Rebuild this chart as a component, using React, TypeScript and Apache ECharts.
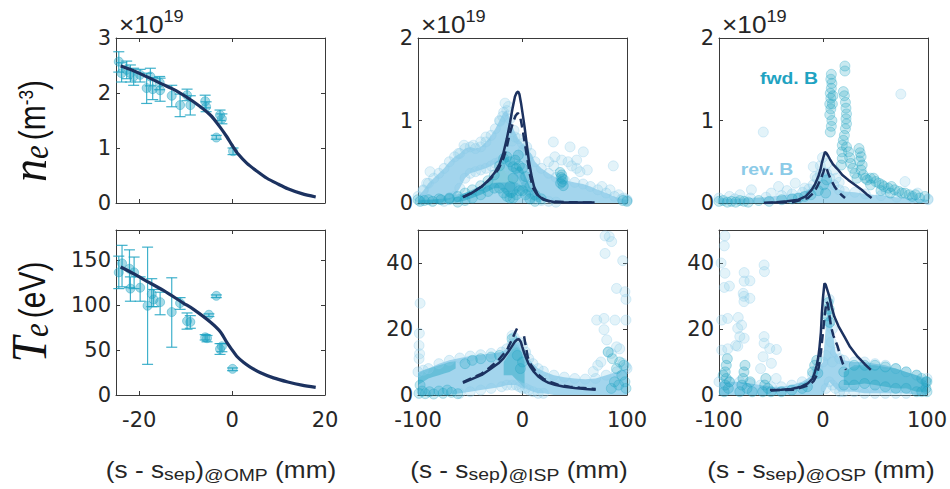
import React, { useEffect, useRef } from "react";
import * as echarts from "echarts";

// ---------- upstream (OMP) profiles: [s, value, lower, upper] ----------
const ompNePts = [
  [-24.4, 2.57, 2.38, 2.75], [-23.8, 2.36, 2.2, 2.55], [-22.7, 2.42, 2.26, 2.58], [-21.9, 2.36, 2.2, 2.51],
  [-21.2, 2.3, 2.14, 2.45], [-19.8, 2.33, 2.2, 2.43], [-18.4, 2.09, 1.81, 2.36], [-17.6, 2.3, 2.13, 2.45],
  [-17.1, 2.07, 1.88, 2.28], [-15.6, 2.19, 2.06, 2.3], [-15.5, 2.05, 1.85, 2.27], [-13, 1.95, 1.75, 2.14],
  [-11.2, 1.78, 1.57, 1.98], [-9.7, 1.96, 1.86, 2.07], [-9, 1.78, 1.6, 1.95], [-5.8, 1.85, 1.73, 1.96],
  [-5.6, 1.75, 1.66, 1.84], [-3.4, 1.19, 1.16, 1.23], [-2.6, 1.6, 1.5, 1.69], [-2.2, 1.53, 1.44, 1.62],
  [0.2, 0.94, 0.88, 1.0],
];
const ompNeFit = [
  [-24, 2.49], [-22, 2.43], [-19, 2.32], [-15.5, 2.18], [-12, 2.04], [-8.3, 1.84], [-4.7, 1.6], [-2.6, 1.38],
  [-1.1, 1.2], [0, 1.05], [1.4, 0.88], [3.2, 0.72], [5, 0.6], [7.5, 0.45], [10, 0.34], [12, 0.26], [15, 0.17], [18, 0.11],
];
const ompTePts = [
  [-24.4, 136, 118, 154], [-23.7, 146, 120, 166], [-22.1, 140, 119, 161], [-21.1, 136, 118, 153],
  [-21.9, 118, 104, 131], [-19.8, 119, 104, 131], [-18.2, 99, 34, 164], [-17.3, 112, 98, 129],
  [-16.9, 106, 98, 117], [-15.5, 103, 89, 114], [-13, 92, 53, 130], [-11.2, 102, 95, 108],
  [-9.7, 82, 73, 91], [-9, 81, 74, 88], [-5.8, 64, 61, 67], [-5.4, 63, 59, 66], [-5, 89, 87, 90],
  [-3.4, 110, 108, 111], [-2.6, 51, 45, 57], [-2.2, 54, 48, 57], [0.1, 29, 27, 30],
];
const ompTeFit = [
  [-24, 142], [-21, 134], [-19, 128], [-14.8, 116], [-10.5, 102], [-8.3, 95], [-4.7, 81], [-2.5, 70],
  [-1.1, 58], [0, 50], [1, 43], [2.5, 36], [3.9, 31], [6, 25], [8.9, 19], [12, 14.5], [15, 11], [18, 8.5],
];

// ---------- inner strike point (ISP) ----------
// bands: [s, low, high]
const ispNeRevBand = [
  [-100, 0, 0.08], [-95, 0, 0.15], [-90, 0, 0.24], [-85, 0, 0.3], [-80, 0, 0.36], [-75, 0.02, 0.42], [-70, 0.04, 0.5],
  [-65, 0.08, 0.56], [-60, 0.18, 0.6], [-55, 0.3, 0.66], [-50, 0.36, 0.68], [-45, 0.38, 0.66], [-40, 0.4, 0.68],
  [-35, 0.42, 0.74], [-30, 0.45, 0.82], [-26, 0.48, 0.9], [-22, 0.5, 1.0], [-18, 0.5, 1.1], [-15, 0.45, 1.12],
  [-12, 0.4, 1.02], [-8, 0.35, 0.88], [-4, 0.3, 0.78], [0, 0.2, 0.72], [4, 0.12, 0.68], [8, 0.08, 0.6],
  [12, 0.05, 0.5], [18, 0.03, 0.42], [25, 0.02, 0.36], [32, 0.01, 0.31], [40, 0, 0.28], [50, 0, 0.25],
  [58, 0, 0.23], [65, 0, 0.2], [72, 0, 0.16], [80, 0, 0.12], [88, 0, 0.08], [95, 0, 0.05], [100, 0, 0.04],
];
const ispNeRevLow = [
  [-65, 0, 0.1], [-55, 0, 0.12], [-45, 0, 0.15], [-35, 0, 0.2], [-25, 0, 0.25], [-15, 0, 0.25], [-5, 0, 0.25], [5, 0, 0.15], [12, 0, 0.08],
];
const ispNeFwdBand = [
  [-100, 0, 0.04], [-90, 0, 0.04], [-80, 0, 0.05], [-70, 0, 0.06], [-62, 0.01, 0.08], [-55, 0.03, 0.12],
  [-48, 0.06, 0.16], [-40, 0.1, 0.21], [-33, 0.14, 0.27], [-27, 0.18, 0.34], [-22, 0.18, 0.45], [-18, 0.12, 0.54],
  [-15, 0.08, 0.56], [-12, 0.06, 0.5], [-9, 0.06, 0.44], [-6, 0.1, 0.42], [-3, 0.15, 0.45], [0, 0.15, 0.42],
  [3, 0.1, 0.32], [7, 0.05, 0.2], [12, 0.02, 0.1], [18, 0, 0.05],
];
const ispNeRevPts = [
  [-88.5, 0.38], [-91.7, 0.24], [-95, 0.16], [-47, 0.7], [-61.4, 0.6], [-56, 0.7], [-40, 0.74], [-35, 0.8],
  [29.5, 0.74], [45.5, 0.68], [58.2, 0.62], [31, 0.56], [37.5, 0.52], [43.6, 0.5], [51.8, 0.52], [51.8, 0.42],
  [47, 0.45], [55, 0.38], [62, 0.4], [86.9, 0.45], [83.7, 0.16], [-16.7, 1.21], [-13.6, 1.17], [-21.5, 0.99],
  [-19, 1.05], [-7.2, 0.8], [0.8, 0.64], [-10, 0.75], [5, 0.55], [92, 0.1], [97, 0.06], [100, 0.03], [76, 0.2],
  [30, 0.45], [25, 0.5],
];
const ispNeFwdPts = [
  [36, 0.37], [37, 0.31], [38, 0.26], [39, 0.21], [37.5, 0.34], [36.5, 0.24], [38.5, 0.29], [-7, 0.52], [-4, 0.58],
  [-9, 0.3], [-12, 0.2], [-98, 0.02], [-94, 0.03], [-86, 0.02], [-78, 0.04], [-70, 0.05], [100, 0.02], [96, 0.03],
];
const ispNeSolid = [
  [-57, 0.07], [-50, 0.11], [-45, 0.15], [-39, 0.2], [-33, 0.27], [-27, 0.36], [-22, 0.47], [-18.4, 0.6],
  [-15, 0.78], [-12, 0.97], [-9.5, 1.15], [-7.2, 1.29], [-5.5, 1.34], [-4.2, 1.35], [-3, 1.32], [-1.4, 1.21],
  [0.5, 1.05], [2, 0.92], [4, 0.72], [6, 0.52], [8.8, 0.32], [11, 0.2], [15, 0.09], [20, 0.04], [31, 0.01],
  [50, 0.005], [69, 0.005],
];
const ispNeDash = [
  [-57, 0.07], [-48, 0.13], [-39, 0.2], [-30, 0.3], [-23, 0.41], [-18, 0.55], [-15, 0.68], [-12, 0.85],
  [-9, 0.98], [-6.5, 1.06], [-4.5, 1.09], [-3, 1.07], [-1.5, 1.0], [0.5, 0.86], [2.5, 0.7], [4.5, 0.55],
  [7, 0.35], [10, 0.18], [15, 0.08], [25, 0.02], [45, 0.01], [69, 0.005],
];
const ispTeRevBand = [
  [-100, 0, 7], [-95, 0, 7.5], [-90, 0, 8], [-80, 0, 9.5], [-70, 0, 10.5], [-60, 0.5, 11.2], [-50, 1, 11.8],
  [-40, 1.5, 12.2], [-30, 2, 12.6], [-20, 2.5, 13], [-15, 3, 14], [-10, 3, 15.5], [-6, 3, 16], [-3, 2.5, 16],
  [0, 2, 15], [3, 2, 13], [6, 1.5, 11], [10, 1, 9.5], [15, 0.5, 8], [20, 0.5, 7.2], [30, 0, 6], [40, 0, 5.4],
  [50, 0, 5], [60, 0, 4.8], [70, 0, 5], [80, 0, 6], [90, 0, 7], [100, 0, 8],
];
const ispTeFwdBandL = [
  [-100, 3, 6.5], [-95, 4, 7.5], [-90, 5, 8], [-85, 5.5, 8.5], [-80, 6, 9], [-75, 6.5, 9.5], [-70, 7, 10], [-64, 8, 10.2],
];
const ispTeFwdBandC = [
  [-18, 6, 10], [-14, 6, 12], [-10, 6, 14], [-7, 5, 15.5], [-4, 4, 15], [-1, 3, 13], [2, 2, 10],
];
const ispTeFwdPts = [
  [-99, 0.5], [-96, 1.2], [-93, 0.4], [-89, 1], [-85, 0.3], [-80, 1.2], [-76, 0.5], [-72, 1.5], [-68, 0.8],
  [-62, 0.4], [-98, 3], [85, 2], [88, 4], [92, 3], [95, 6], [98, 4], [90, 8], [86, 11], [82, 13], [93, 10],
  [97, 9], [99, 2], [-55, 9.5], [-48, 10.5], [-40, 11], [-30, 11.5], [-22, 12], [-10, 17], [-5, 12], [0, 10], [-2, 8],
];
const ispTeRevPts = [
  [67.7, 7.1], [71, 22.7], [79, 48.2], [83, 48], [85.3, 46.5], [79, 42.9], [95.9, 40.7], [98, 31.3], [99, 29],
  [90, 32.3], [88.5, 22.7], [99, 22.7], [78, 23.2], [78, 19.8], [80.6, 16.7], [82, 13.1], [85, 12.6], [90, 14.6],
  [93, 14], [96, 9.6], [99, 8.6], [75, 10], [72, 9], [-98, 27.8], [-98.7, 18.7], [-99, 15], [-98.5, 12.5],
  [-99, 11], [-10, 18], [-8, 17.5],
];
const ispTeSolid = [
  [-57, 3.7], [-48, 4.9], [-39, 6.1], [-31, 7.8], [-23, 9.6], [-18, 11.2], [-13.6, 13.1], [-10, 14.8],
  [-7.2, 16.2], [-5, 16.8], [-3.3, 16.9], [-1.5, 16], [-0.2, 14.6], [2, 12.4], [4, 10.8], [5.6, 9.6], [8, 8.3],
  [11, 7], [15, 5.6], [20, 4.5], [25, 3.7], [31, 3.1], [40, 2.5], [50, 2.1], [60, 1.8], [70, 1.6],
];
const ispTeDashL = [
  [-57, 3.9], [-48, 5.2], [-39, 6.5], [-31, 8.4], [-23, 10.6], [-18, 12.5], [-14, 14.2], [-10.3, 16.7],
  [-7, 19], [-4.5, 20.6], [-2.5, 21.2],
];
const ispTeDashR = [
  [1.5, 17.8], [3, 15], [5, 11.5], [8, 9.2], [12, 7.4], [15, 6.2], [20, 4.9], [26, 4], [34, 3.1], [45, 2.5],
  [55, 2.2], [70, 1.8],
];

// ---------- outer strike point (OSP) ----------
const ospNeRevBand = [
  [-100, 0, 0.06], [-85, 0, 0.05], [-70, 0, 0.06], [-55, 0, 0.07], [-40, 0, 0.09], [-30, 0, 0.11], [-20, 0, 0.13],
  [-14, 0, 0.17], [-10, 0, 0.22], [-6, 0, 0.3], [-3, 0, 0.35], [0, 0, 0.37], [3, 0, 0.36], [6, 0, 0.3], [10, 0, 0.22],
  [15, 0, 0.16], [20, 0, 0.14], [30, 0, 0.13], [40, 0, 0.11], [55, 0, 0.09], [70, 0, 0.07], [85, 0, 0.06], [100, 0, 0.04],
];
const ospNeFwdPts = [
  [6.5, 0.86], [7.5, 0.93], [8, 1.0], [6, 1.07], [7, 1.14], [8.5, 1.2], [7, 1.27], [6.5, 1.33], [7.5, 1.39],
  [8, 1.45], [7, 1.5], [7.5, 1.56], [6, 1.2], [9, 1.3], [20.5, 1.66], [20.5, 1.6],
  [19, 1.35], [20, 1.3], [21, 1.22], [21.5, 1.15], [22, 1.08], [21.5, 1.02], [22, 0.96], [21, 0.9], [20, 0.82],
  [19, 0.76], [18, 0.7], [17.5, 0.62], [18, 0.54], [17, 0.46], [22, 0.68], [24, 0.62], [25, 0.55], [26, 0.48],
  [28, 0.42], [30, 0.36], [32, 0.3],
  [34, 0.66], [35, 0.61], [36, 0.56], [34.5, 0.51], [37, 0.46], [36, 0.4], [38, 0.34], [40, 0.3], [42, 0.28],
  [45, 0.3], [48, 0.3], [50, 0.26], [53, 0.24], [56, 0.22], [58, 0.2], [62, 0.18], [65, 0.2], [68, 0.16],
  [72, 0.14], [75, 0.12], [78, 0.12], [82, 0.1], [85, 0.08], [88, 0.1], [92, 0.06], [97, 0.08], [45, 0.22],
  [55, 0.15], [64, 0.12],
  [-100, 0.02], [-96, 0.03], [-92, 0.01], [-88, 0.02], [-84, 0.01], [-80, 0.03], [-76, 0.02], [-72, 0.01],
  [-62, 0.03], [-52, 0.02], [-40, 0.04], [-30, 0.05], [-24, 0.06], [-18, 0.08], [-12, 0.1], [-5, 0.15],
  [0, 0.22], [3, 0.28], [2, 0.12],
];
const ospNeRevPts = [
  [-57.6, 0.86], [-9.8, 0.44], [-8, 0.32], [-27, 0.24], [-43, 0.2], [-69, 0.16], [78, 0.26], [74, 1.32],
  [-3, 0.45], [3, 0.48], [12, 0.3], [15, 0.25], [-18, 0.18], [-35, 0.15], [-50, 0.12], [-80, 0.1], [-90, 0.08],
  [60, 0.14], [90, 0.12], [100, 0.05], [10, 0.4], [-1, 0.55],
];
const ospNeSolid = [
  [-57, 0.0], [-45, 0.01], [-35, 0.02], [-24, 0.04], [-17, 0.08], [-11.3, 0.16], [-8, 0.23], [-5, 0.32],
  [-3, 0.4], [-1.7, 0.48], [0, 0.56], [1.4, 0.62], [3, 0.6], [4.5, 0.57], [6.2, 0.53], [9, 0.47], [12, 0.43],
  [14.2, 0.4], [18, 0.34], [23.7, 0.28], [30, 0.22], [36.5, 0.16], [41, 0.11], [46, 0.06],
];
const ospNeDash = [
  [-57, 0.0], [-30, 0.01], [-15, 0.06], [-9.8, 0.12], [-6, 0.2], [-3, 0.28], [-1.7, 0.32], [0, 0.38], [1.4, 0.44],
  [3, 0.42], [4.5, 0.36], [6.5, 0.3], [8.5, 0.25], [11, 0.19], [14, 0.14], [17, 0.1], [20.6, 0.06],
];
const ospTeRevBand = [
  [-100, 0, 4], [-90, 0, 4], [-80, 0, 4], [-70, 0, 3.5], [-60, 0, 3], [-50, 0, 2.5], [-40, 0, 2.5], [-30, 0, 3],
  [-20, 0, 4], [-10, 0, 6], [-5, 0, 8], [0, 0, 10], [3, 2, 22], [6, 4, 29], [9, 3, 20], [12, 2, 13], [16, 1, 11],
  [20, 1, 10.5], [30, 1, 10], [40, 0.5, 10], [50, 0.5, 9.5], [60, 0.5, 9], [70, 0.5, 8], [80, 0.5, 7], [90, 0, 6], [100, 0, 5],
];
const ospTeFwdBand = [
  [20, 3, 7], [30, 3, 9], [40, 3.5, 9], [50, 3, 9], [60, 2.5, 8.5], [70, 2, 8], [80, 2, 7], [90, 1, 6], [95, 1, 5], [100, 1, 4],
];
const ospTeFwdPts = [
  [-95, 1], [-94, 3], [-93, 5], [-94, 7], [-93, 9], [-92, 11], [-91, 2], [-90, 4], [-96, 6],
  [-80, 1], [-78, 3], [-77, 5], [-76, 7], [-75, 9], [-73, 2], [-70, 4], [-68, 1],
  [-58, 1], [-56, 3], [-55, 5], [-53, 2], [-50, 1], [-10, 7], [-8, 9], [-6, 10.5], [-5, 6.6],
  [5, 28], [6, 26], [4.5, 24], [6.5, 22], [-40, 1], [-30, 1.5], [-20, 2], [-15, 2.5], [99, 2], [99, 4],
];
const ospTeRevPts = [
  [-94.3, 48.2], [-94.9, 45.2], [-56.6, 39.4], [-56.3, 37.4], [-94.3, 36.9], [-75.8, 37.1], [-75.8, 34.5],
  [-70.3, 34.6], [-94.9, 32.6], [-90, 33], [-76.7, 30.8], [-76, 29.9], [-70.3, 29.3], [-76, 28.3], [-91.7, 23.2],
  [-81.5, 23.5], [-78.3, 21.2], [-82, 20.2], [-75.8, 17.2], [-80, 17.7], [-56.6, 17.7], [-56.6, 15.7],
  [-51.2, 14.1], [-44.8, 13.8], [-97.4, 13.6], [-91.6, 14], [-82, 14.8], [-57.6, 11.6], [-49.6, 9.6],
  [-98, 40], [-84, 15], [-60, 8], [-45, 5], [-97.4, 22.7], [4, 26], [6, 22], [8, 16], [3, 12], [9, 10],
];
const ospTeSolid = [
  [-51, 1.5], [-40, 1.6], [-30.4, 1.8], [-22, 2.4], [-14.5, 3.5], [-10, 5], [-8.1, 6.6], [-6, 9], [-4.5, 11.5],
  [-3.3, 14.6], [-2, 19], [-1.1, 24.7], [0, 29.5], [1.4, 33.8], [2.5, 33.5], [4, 32], [6.2, 29.8], [8.5, 26.5],
  [11, 23.7], [15, 20.8], [20.6, 17.7], [26, 14.6], [33.3, 11.6], [40, 9.4], [46, 7.6],
];
const ospTeDash = [
  [-50, 1.4], [-40, 1.5], [-29, 1.6], [-20, 2.3], [-13, 3.1], [-9, 4.2], [-6, 6], [-4, 8.5], [-2, 13], [0, 19],
  [2, 25], [3.5, 28.3], [4.6, 27.6], [6.2, 24], [7.8, 20.7], [10, 18], [12, 16.4], [14.2, 14.6], [17, 11.5],
  [19, 9.6], [22.2, 7.6],
];

// ---------- axes ----------
const ompTicks = [-20, 0, 20];
const divTicks = [-100, 0, 100];
const neOmpTicks = [0, 1, 2, 3];
const neDivTicks = [0, 1, 2];
const teOmpTicks = [0, 50, 100, 150];
const teDivTicks = [0, 20, 40];

const TEAL = [31, 163, 194];
const LIGHT = [140, 203, 232];
const NAVY = "#1c3260";
const AXIS = "#3a3a3a";
const TXT = "#262626";
const TICK_FONT = "'DejaVu Sans', sans-serif";
const SANS = "Liberation Sans";
const SERIF = "Liberation Serif";
const STRETCH = 1.14;
// distance from the "central" baseline to the alphabetic baseline, in em
const CENTRAL = 0.345;

const rgba = (c: number[], a: number) => `rgba(${c[0]},${c[1]},${c[2]},${a})`;

const panels = [
  { x: [-25, 20], xt: ompTicks, y: [0, 3], yt: neOmpTicks, labels: false },
  { x: [-100, 100], xt: divTicks, y: [0, 2], yt: neDivTicks, labels: false },
  { x: [-100, 100], xt: divTicks, y: [0, 2], yt: neDivTicks, labels: false },
  { x: [-25, 20], xt: ompTicks, y: [0, 183], yt: teOmpTicks, labels: true },
  { x: [-100, 100], xt: divTicks, y: [0, 50], yt: teDivTicks, labels: true },
  { x: [-100, 100], xt: divTicks, y: [0, 50], yt: teDivTicks, labels: true },
];
const grids = [
  { left: 116, top: 38 }, { left: 418, top: 38 }, { left: 719, top: 38 },
  { left: 116, top: 230 }, { left: 418, top: 230 }, { left: 719, top: 230 },
].map((g) => ({ ...g, width: 209, height: 165 }));

function makeAxis(gridIndex: number, range: number[], ticks: number[], showLabels: boolean, position: string, isX: boolean) {
  return {
    type: "value",
    gridIndex,
    position,
    min: range[0],
    max: range[1],
    axisLine: { show: true, onZero: false, lineStyle: { color: AXIS, width: 1 } },
    axisTick: { show: true, inside: true, length: 4, customValues: ticks, lineStyle: { color: AXIS, width: 1 } },
    axisLabel: {
      show: showLabels,
      customValues: ticks,
      fontSize: 21,
      fontFamily: TICK_FONT,
      color: TXT,
      margin: isX ? 14 : 5,
    },
    splitLine: { show: false },
  };
}

function bandSeries(band: number[][], color: number[], alpha: number, ax: number) {
  return {
    type: "custom",
    xAxisIndex: ax,
    yAxisIndex: ax,
    silent: true,
    z: 1,
    data: [[band[0][0], band[0][2]]],
    renderItem: (_p: any, api: any) => {
      const upper = band.map((b) => api.coord([b[0], b[2]]));
      const lower = band.slice().reverse().map((b) => api.coord([b[0], b[1]]));
      return { type: "polygon", shape: { points: upper.concat(lower) }, style: { fill: rgba(color, alpha) } };
    },
  };
}

function dots(pts: number[][], color: number[], alpha: number, ax: number, z = 3, size = 10) {
  return {
    type: "scatter",
    xAxisIndex: ax,
    yAxisIndex: ax,
    data: pts,
    symbolSize: size,
    silent: true,
    z,
    itemStyle: { color: rgba(color, alpha), borderColor: rgba(color, Math.min(1, alpha + 0.2)), borderWidth: 0.8 },
  };
}

function bandEdges(band: number[][], color: number[], alpha: number, ax: number) {
  const pts: number[][] = [];
  band.forEach((b) => {
    pts.push([b[0], b[2]]);
    if (b[1] > 0) pts.push([b[0], b[1]]);
  });
  return dots(pts, color, alpha, ax, 2);
}

function errorBars(pts: number[][], ax: number) {
  return {
    type: "custom",
    xAxisIndex: ax,
    yAxisIndex: ax,
    silent: true,
    z: 2,
    data: pts,
    encode: { x: 0, y: [1, 2, 3] },
    renderItem: (_p: any, api: any) => {
      const x = api.value(0);
      const top = api.coord([x, api.value(3)]);
      const bot = api.coord([x, api.value(2)]);
      const w = 5.5;
      const style = { stroke: rgba(TEAL, 0.85), lineWidth: 1.2, fill: null };
      return {
        type: "group",
        children: [
          { type: "line", shape: { x1: top[0], y1: top[1], x2: bot[0], y2: bot[1] }, style },
          { type: "line", shape: { x1: top[0] - w, y1: top[1], x2: top[0] + w, y2: top[1] }, style },
          { type: "line", shape: { x1: bot[0] - w, y1: bot[1], x2: bot[0] + w, y2: bot[1] }, style },
        ],
      };
    },
  };
}

function curve(data: number[][], ax: number, dashed: boolean, width: number, smooth: number | boolean = false) {
  return {
    type: "line",
    xAxisIndex: ax,
    yAxisIndex: ax,
    data,
    showSymbol: false,
    silent: true,
    smooth,
    z: 5,
    lineStyle: { color: NAVY, width, type: dashed ? [9, 5] : "solid", cap: "butt" },
  };
}

// ---------- composite labels (sub/superscripts laid out run by run) ----------
// sy: stretch across the writing direction, about the run's own baseline
type Run = { t: string; size: number; family: string; italic?: boolean; dy?: number; gap?: number; sy?: number };

let measureCtx: CanvasRenderingContext2D | null = null;
function textWidth(run: Run) {
  if (!measureCtx) measureCtx = document.createElement("canvas").getContext("2d");
  measureCtx!.font = `${run.italic ? "italic " : ""}${run.size}px "${run.family}"`;
  return measureCtx!.measureText(run.t).width;
}

// builds a group whose local baseline is y = 0; anchor "center" or "left"
function runGroup(runs: Run[], color: string, anchor: "center" | "left", opts: any) {
  let u = 0;
  const placed: { run: Run; u: number }[] = [];
  runs.forEach((r) => {
    u += r.gap || 0;
    placed.push({ run: r, u });
    u += textWidth(r);
  });
  const shift = anchor === "center" ? -u / 2 : 0;
  const children = placed.map(({ run, u: pos }) => ({
    type: "text",
    x: pos + shift,
    y: (run.dy || 0) - CENTRAL * run.size,
    originY: CENTRAL * run.size,
    scaleY: run.sy || 1,
    style: {
      text: run.t,
      fontFamily: run.family,
      fontSize: run.size,
      fontStyle: run.italic ? "italic" : "normal",
      fill: color,
      align: "left",
      verticalAlign: "middle",
      lineHeight: run.size * 0.8,
    },
  }));
  return { type: "group", ...opts, children };
}

function yLabel(main: string, mainSize: number, mainSy: number, rest: Run[], x: number, y: number) {
  const runs: Run[] = [
    { t: main, size: mainSize, family: SERIF, italic: true, sy: mainSy },
    { t: "e", size: 31, family: SERIF, italic: true, dy: 1.7, sy: STRETCH },
    ...rest,
  ];
  return runGroup(runs, "#111", "center", { x, y, rotation: Math.PI / 2 });
}

function xTitle(loc: string, x: number) {
  const runs: Run[] = [
    { t: "(s - s", size: 23, family: SANS },
    { t: "sep", size: 17, family: SANS, dy: 2 },
    { t: ")", size: 23, family: SANS },
    { t: "@" + loc, size: 17, family: SANS, dy: 3 },
    { t: " (mm)", size: 23, family: SANS },
  ];
  return runGroup(runs, TXT, "center", { x, y: 478, scaleX: STRETCH });
}

function exponent(x: number) {
  const runs: Run[] = [
    { t: "×10", size: 23, family: SANS },
    { t: "19", size: 16, family: SANS, dy: -11 },
  ];
  return runGroup(runs, TXT, "left", { x, y: 33, scaleX: STRETCH });
}

function note(text: string, color: number[], x: number, y: number) {
  return {
    type: "text",
    x,
    y,
    scaleX: STRETCH,
    style: {
      text,
      fontFamily: SANS,
      fontWeight: "bold",
      fontSize: 17,
      fill: rgba(color, 1),
      align: "center",
      verticalAlign: "middle",
    },
  };
}

function buildOption() {
  const xAxes: any[] = [];
  const yAxes: any[] = [];
  panels.forEach((p, i) => xAxes.push(makeAxis(i, p.x, p.xt, p.labels, "bottom", true)));
  panels.forEach((p, i) => xAxes.push(makeAxis(i, p.x, p.xt, false, "top", true)));
  panels.forEach((p, i) => yAxes.push(makeAxis(i, p.y, p.yt, true, "left", false)));
  panels.forEach((p, i) => yAxes.push(makeAxis(i, p.y, p.yt, false, "right", false)));

  const series: any[] = [
    // OMP density
    errorBars(ompNePts, 0),
    dots(ompNePts.map((d) => [d[0], d[1]]), TEAL, 0.5, 0, 3, 9),
    curve(ompNeFit, 0, false, 3.2, 0.3),
    // ISP density
    bandSeries(ispNeRevLow, LIGHT, 0.75, 1),
    bandSeries(ispNeRevBand, LIGHT, 0.8, 1),
    bandEdges(ispNeRevBand, LIGHT, 0.35, 1),
    bandSeries(ispNeFwdBand, TEAL, 0.55, 1),
    bandEdges(ispNeFwdBand, TEAL, 0.3, 1),
    dots(ispNeRevPts, LIGHT, 0.3, 1),
    dots(ispNeFwdPts, TEAL, 0.35, 1),
    curve(ispNeDash, 1, true, 2.5),
    curve(ispNeSolid, 1, false, 2.5),
    // OSP density
    bandSeries(ospNeRevBand, LIGHT, 0.75, 2),
    bandEdges(ospNeRevBand, LIGHT, 0.35, 2),
    dots(ospNeRevPts, LIGHT, 0.3, 2),
    dots(ospNeFwdPts, TEAL, 0.3, 2),
    curve(ospNeDash, 2, true, 2.5),
    curve(ospNeSolid, 2, false, 2.5),
    // OMP temperature
    errorBars(ompTePts, 3),
    dots(ompTePts.map((d) => [d[0], d[1]]), TEAL, 0.5, 3, 3, 9),
    curve(ompTeFit, 3, false, 3.2, 0.3),
    // ISP temperature
    bandSeries(ispTeRevBand, LIGHT, 0.8, 4),
    bandEdges(ispTeRevBand, LIGHT, 0.35, 4),
    bandSeries(ispTeFwdBandL, TEAL, 0.45, 4),
    bandSeries(ispTeFwdBandC, TEAL, 0.45, 4),
    dots(ispTeRevPts, LIGHT, 0.3, 4),
    dots(ispTeFwdPts, TEAL, 0.3, 4),
    curve(ispTeDashL, 4, true, 2.5),
    curve(ispTeDashR, 4, true, 2.5),
    curve(ispTeSolid, 4, false, 2.5),
    // OSP temperature
    bandSeries(ospTeRevBand, LIGHT, 0.8, 5),
    bandEdges(ospTeRevBand, LIGHT, 0.35, 5),
    bandSeries(ospTeFwdBand, TEAL, 0.5, 5),
    bandEdges(ospTeFwdBand, TEAL, 0.3, 5),
    dots(ospTeRevPts, LIGHT, 0.3, 5),
    dots(ospTeFwdPts, TEAL, 0.35, 5),
    curve(ospTeDash, 5, true, 2.5),
    curve(ospTeSolid, 5, false, 2.5),
  ];

  return {
    animation: false,
    backgroundColor: "#ffffff",
    grid: grids,
    xAxis: xAxes,
    yAxis: yAxes,
    series,
    graphic: [
      exponent(119),
      exponent(421),
      exponent(722),
      yLabel(
        "n",
        46,
        1.12,
        [
          { t: "(m", size: 30, family: SANS, gap: 5, dy: -1, sy: 1.2 },
          { t: "-3", size: 17, family: SANS, dy: -13, sy: 1.2 },
          { t: ")", size: 30, family: SANS, dy: -1, sy: 1.2 },
        ],
        46,
        131,
      ),
      yLabel("T", 46, 1.08, [{ t: "(eV)", size: 30, family: SANS, gap: 5, dy: -1, sy: 1.2 }], 46, 312),
      xTitle("OMP", 221),
      xTitle("ISP", 519),
      xTitle("OSP", 821),
      note("fwd. B", TEAL, 789, 78),
      note("rev. B", LIGHT, 767, 169),
    ],
  };
}

export default function App() {
  const ref = useRef<HTMLDivElement>(null);
  useEffect(() => {
    if (!ref.current) return;
    const chart = echarts.init(ref.current, undefined, { renderer: "svg" });
    chart.setOption(buildOption() as any);
    return () => chart.dispose();
  }, []);
  return <div ref={ref} style={{ position: "absolute", left: 0, top: 0, width: 950, height: 489 }} />;
}
